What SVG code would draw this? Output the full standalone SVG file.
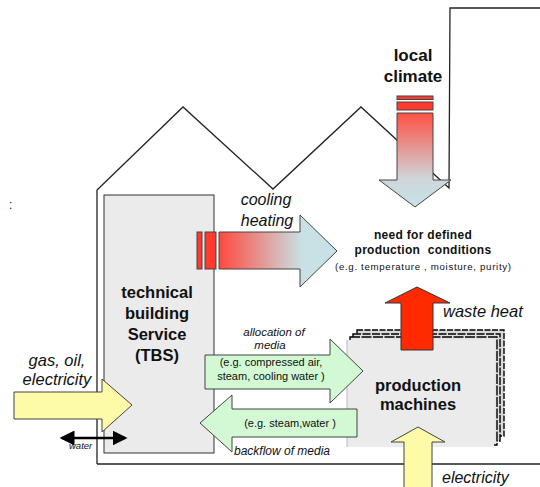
<svg xmlns="http://www.w3.org/2000/svg" width="540" height="487" viewBox="0 0 540 487">
<style>
  text { font-family: "Liberation Sans", Arial, sans-serif; fill: #111; }
  .b { font-weight: bold; text-anchor: middle; }
  .i { font-style: italic; }
  .m { text-anchor: middle; }
  .arr { stroke: #444; stroke-width: 1; }
  .bar { fill: #ff3b2f; stroke: #444; stroke-width: 1; }
  .box { fill: #ebebeb; stroke: #333; stroke-width: 1; }
  .green { fill: #d2f9d3; stroke: #444; stroke-width: 1; }
  .yellow { fill: #fdfaa8; stroke: #444; stroke-width: 1; }
  .layer { stroke: #000; stroke-width: 1.4; }
</style>
<defs>
  <linearGradient id="gh" gradientUnits="userSpaceOnUse" x1="219" y1="0" x2="337" y2="0">
    <stop offset="0" stop-color="#ff4a3f"/>
    <stop offset="0.7" stop-color="#c9e0e4"/>
    <stop offset="1" stop-color="#c5e2e6"/>
  </linearGradient>
  <linearGradient id="gv" gradientUnits="userSpaceOnUse" x1="0" y1="113" x2="0" y2="207">
    <stop offset="0" stop-color="#ff5044"/>
    <stop offset="0.7" stop-color="#cfd6da"/>
    <stop offset="1" stop-color="#c5e2e6"/>
  </linearGradient>
  <marker id="ah" markerWidth="6" markerHeight="6" refX="5" refY="3" orient="auto-start-reverse" markerUnits="strokeWidth">
    <path d="M0,0 L6,3 L0,6 Z" fill="#000"/>
  </marker>
</defs>
<rect x="0" y="0" width="540" height="487" fill="#fff"/>

<g id="building">
  <polyline points="97,464 97,190 183,107 273,189 361,107 449,188 450,8 540,8" fill="none" stroke="#222" stroke-width="1.3"/>
  <line x1="97" y1="464" x2="540" y2="464" stroke="#222" stroke-width="1.5"/>
</g>

<text x="9" y="209" font-size="12">:</text>

<g id="tbs">
  <rect class="box" x="104" y="195" width="110" height="258"/>
  <text class="b" x="157" y="298" font-size="16.5">technical</text>
  <text class="b" x="157" y="319" font-size="16.5">building</text>
  <text class="b" x="157" y="340" font-size="16.5">Service</text>
  <text class="b" x="157" y="361" font-size="16.5">(TBS)</text>
</g>

<g id="machines">
  <rect class="layer" x="357" y="330" width="147" height="106" fill="#d8d8d8" stroke-dasharray="6,1.5"/>
  <rect class="layer" x="353" y="334" width="147" height="107" fill="#e0e0e0" stroke-dasharray="8,1.5"/>
  <rect class="layer" x="350" y="337" width="147" height="108" fill="#e6e6e6" stroke-dasharray="10,1.5"/>
  <rect x="347" y="340" width="147" height="107" fill="#ebebeb" stroke="none"/>
  <line x1="347" y1="340" x2="347" y2="447" stroke="#bbb" stroke-width="1"/>
  <text class="b" x="418" y="391" font-size="16.5">production</text>
  <text class="b" x="418" y="410" font-size="16.5">machines</text>
</g>

<g id="local-climate">
  <text class="b" x="413" y="61" font-size="17">local</text>
  <text class="b" x="413" y="82" font-size="17">climate</text>
</g>

<g id="need">
  <text class="b" x="423" y="239" font-size="12" letter-spacing="0.3">need for defined</text>
  <text class="b" x="423" y="254" font-size="12" letter-spacing="0.3" word-spacing="4">production conditions</text>
  <text class="m" x="423" y="270" font-size="9.7" textLength="176">(e.g. temperature , moisture, purity)</text>
</g>

<g id="connectors">
  <!-- local climate arrow -->
  <rect class="bar" x="397" y="96" width="36" height="3.5"/>
  <rect class="bar" x="397" y="102" width="36" height="8"/>
  <polygon class="arr" fill="url(#gv)" points="397,113 433,113 433,180 451,180 415,207 379,180 397,180"/>

  <!-- cooling / heating arrow -->
  <rect class="bar" x="197" y="232" width="5" height="37"/>
  <rect class="bar" x="205" y="232" width="11" height="37"/>
  <polygon class="arr" fill="url(#gh)" points="219,232 300,232 300,215 337,251 300,287 300,269 219,269"/>
  <text class="i m" x="266" y="205" font-size="16">cooling</text>
  <text class="i m" x="267" y="226" font-size="16">heating</text>

  <!-- waste heat -->
  <polygon points="401,350 433,350 433,303 450,303 417,287 385,303 401,303" fill="#ff2a00" stroke="#333" stroke-width="1"/>
  <text class="i" x="443" y="317" font-size="16.5">waste heat</text>

  <!-- electricity into machines -->
  <polygon class="yellow" points="404,488 432,488 432,442 445,442 418,427 391,442 404,442"/>
  <text class="i" x="442" y="483" font-size="16">electricity</text>

  <!-- gas oil electricity -->
  <polygon class="yellow" points="14,392 102,392 102,379 132,405 102,432 102,419 14,419"/>
  <text class="i m" x="57" y="366" font-size="16.5">gas, oil,</text>
  <text class="i m" x="57" y="385" font-size="16.5">electricity</text>

  <!-- water -->
  <line x1="62" y1="438" x2="125" y2="438" stroke="#000" stroke-width="2.5" marker-start="url(#ah)" marker-end="url(#ah)"/>
  <text class="i" x="69" y="449" font-size="9.5" fill="#333">water</text>

  <!-- allocation of media -->
  <text class="i m" x="274" y="336" font-size="11.5" fill="#333">allocation of</text>
  <text class="i m" x="270" y="349" font-size="11.5" fill="#333">media</text>
  <polygon class="green" points="205,355 330,355 330,339 363,371 330,403 330,389 205,389"/>
  <text class="m" x="271" y="366" font-size="11">(e.g. compressed air,</text>
  <text class="m" x="271" y="380" font-size="11">steam, cooling water )</text>

  <!-- backflow of media -->
  <polygon class="green" points="357,409 232,409 232,395 200,423 232,452 232,437 357,437"/>
  <text class="m" x="290" y="427" font-size="11">(e.g. steam,water )</text>
  <text class="i" x="234" y="455" font-size="12" fill="#333">backflow of media</text>
</g>
</svg>
